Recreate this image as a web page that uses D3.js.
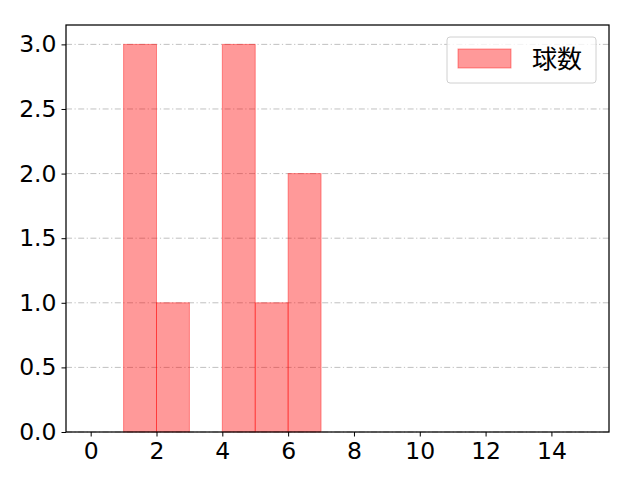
<!DOCTYPE html>
<html>
<head>
<meta charset="utf-8">
<script src="https://cdn.jsdelivr.net/npm/d3@7"></script>
<style>
  body { margin: 0; background: #fff; }
  text { font-family: "Noto Sans CJK JP", "DejaVu Sans", sans-serif; }
  .tick text { font-family: "DejaVu Sans", sans-serif; }
</style>
</head>
<body>
<script>
// histogram bins (left edge, right edge) and counts
var binStarts = [0, 1, 2, 3, 4, 5, 6, 7, 8, 9, 10, 11, 12, 13, 14];
var binEnds   = [1, 2, 3, 4, 5, 6, 7, 8, 9, 10, 11, 12, 13, 14, 15];
var counts    = [0, 3, 1, 0, 3, 1, 2, 0, 0, 0, 0, 0, 0, 0, 0];
var xTicks = [0, 2, 4, 6, 8, 10, 12, 14];
var yTicks = [0, 0.5, 1.0, 1.5, 2.0, 2.5, 3.0];
var seriesName = "球数";

var W = 640, H = 480;
var margin = {left: 66, right: 31, top: 25, bottom: 48};

var svg = d3.select("body").append("svg")
    .attr("width", W)
    .attr("height", H);

var x = d3.scaleLinear().domain([-0.75, 15.75]).range([margin.left, W - margin.right]);
var y = d3.scaleLinear().domain([0, 3.15]).range([H - margin.bottom, margin.top]);

// grid
svg.append("g").selectAll("line").data(yTicks).enter().append("line")
    .attr("x1", margin.left).attr("x2", W - margin.right)
    .attr("y1", function(d){return y(d);}).attr("y2", function(d){return y(d);})
    .style("stroke", "#b0b0b0")
    .style("stroke-width", 0.8)
    .style("stroke-dasharray", "6,2.5,1.2,2.5");

var bars = binStarts.map(function(s, i){ return {x0: s, x1: binEnds[i], n: counts[i]}; })
    .filter(function(d){ return d.n > 0; });

svg.append("g").selectAll("rect").data(bars).enter().append("rect")
    .attr("x", function(d){return x(d.x0);})
    .attr("width", function(d){return x(d.x1) - x(d.x0);})
    .attr("y", function(d){return y(d.n);})
    .attr("height", function(d){return y(0) - y(d.n);})
    .style("fill", "red")
    .style("fill-opacity", 0.4)
    .style("stroke", "red")
    .style("stroke-opacity", 0.4)
    .style("stroke-width", 1);

// axes
var xAxis = svg.append("g")
    .attr("transform", "translate(0," + (H - margin.bottom) + ")")
    .call(d3.axisBottom(x).tickValues(xTicks).tickFormat(d3.format("d")).tickSizeOuter(0).tickSize(4.5).tickPadding(4));
var yAxis = svg.append("g")
    .attr("transform", "translate(" + margin.left + ",0)")
    .call(d3.axisLeft(y).tickValues(yTicks).tickFormat(d3.format(".1f")).tickSizeOuter(0).tickSize(4.5).tickPadding(5));

[xAxis, yAxis].forEach(function(a){
  a.select(".domain").remove();
  a.attr("font-size", null).attr("font-family", null);
  a.selectAll("text").style("font-size", "23.5px").style("fill", "#000");
  a.selectAll(".tick line").style("stroke", "#000").style("stroke-width", 1);
});
xAxis.selectAll("text").attr("dy", "0.78em");

// frame
svg.append("rect")
    .attr("x", margin.left).attr("y", margin.top)
    .attr("width", W - margin.left - margin.right)
    .attr("height", H - margin.top - margin.bottom)
    .style("fill", "none").style("stroke", "#000").style("stroke-width", 1.25);

// legend
var lg = svg.append("g").attr("transform", "translate(447,37)");
lg.append("rect").attr("width", 149).attr("height", 46).attr("rx", 3)
    .style("fill", "#fff").style("fill-opacity", 0.8)
    .style("stroke", "#d0d0d0").style("stroke-width", 1);
lg.append("rect").attr("x", 11).attr("y", 12).attr("width", 53).attr("height", 19)
    .style("fill", "red").style("fill-opacity", 0.4)
    .style("stroke", "red").style("stroke-opacity", 0.4);
lg.append("text").attr("x", 85).attr("y", 22).attr("dy", "0.35em")
    .style("font-size", "25px").text(seriesName);
</script>
</body>
</html>
